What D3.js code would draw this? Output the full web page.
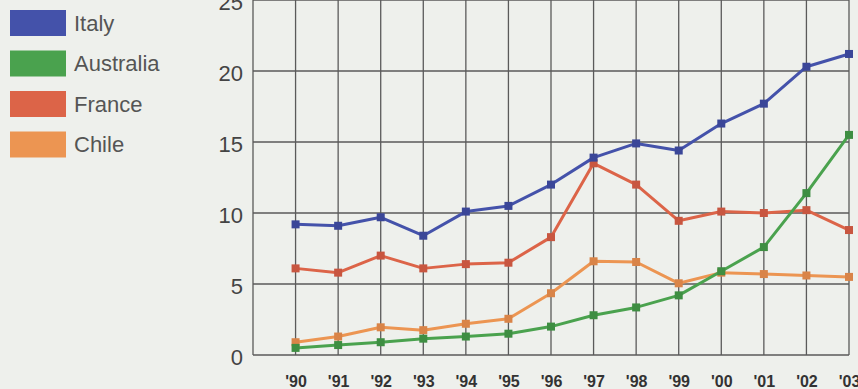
<!DOCTYPE html>
<html><head><meta charset="utf-8">
<script src="https://cdn.jsdelivr.net/npm/d3@7"></script>
<style>
html,body{margin:0;padding:0;background:#eef0ec;}
svg{display:block;}
</style></head>
<body>
<script>
const years = [1990,1991,1992,1993,1994,1995,1996,1997,1998,1999,2000,2001,2002,2003];
const italy     = [9.2,9.1,9.7,8.4,10.1,10.5,12.0,13.9,14.9,14.4,16.3,17.7,20.3,21.2];
const australia = [0.5,0.7,0.9,1.15,1.3,1.5,2.0,2.8,3.35,4.2,5.9,7.6,11.4,15.5];
const france    = [6.1,5.8,7.0,6.1,6.4,6.5,8.3,13.5,12.0,9.45,10.1,10.0,10.2,8.8];
const chile     = [0.9,1.3,1.95,1.75,2.2,2.55,4.35,6.6,6.55,5.05,5.8,5.7,5.6,5.5];
const yTicks = [0,5,10,15,20,25];
const seriesNames = ["Italy","Australia","France","Chile"];
const seriesColors = ["#4452aa","#4aa24e","#dc6448","#ec9552"];
const markerColors = ["#3a4698","#3e8e42","#c85640","#d98448"];

const W=858,H=389;
const svg=d3.select("body").append("svg").attr("width",W).attr("height",H);
svg.append("rect").attr("width",W).attr("height",H).attr("fill","#eef0ec");

const x=d3.scaleLinear().domain([1989,2003]).range([253,849]);
const y=d3.scaleLinear().domain([0,25]).range([355,0]);

// grid
const g=svg.append("g");
g.selectAll("line.h").data(yTicks).join("line")
  .attr("x1",x(1989)).attr("x2",x(2003))
  .attr("y1",d=>y(d)).attr("y2",d=>y(d))
  .attr("stroke","#5a5a5a").attr("stroke-width",1.3);
g.selectAll("line.v").data([1989].concat(years)).join("line")
  .attr("x1",d=>x(d)).attr("x2",d=>x(d))
  .attr("y1",y(25)).attr("y2",y(0))
  .attr("stroke","#5a5a5a").attr("stroke-width",1.3);

// y labels
const yAxis=d3.axisLeft(y).tickValues(yTicks).tickSize(0).tickPadding(10);
const ya=svg.append("g").attr("transform",`translate(${x(1989)},0)`).call(yAxis);
ya.select(".domain").remove();
ya.selectAll("text").attr("font-family","Liberation Sans, Arial, sans-serif")
  .attr("font-size",22).attr("fill","#444").attr("dy","0.42em");

// x labels
const xAxis=d3.axisBottom(x).tickValues(years).tickSize(0).tickPadding(0)
  .tickFormat(d=>"'"+String(d).slice(2));
const xa=svg.append("g").attr("transform",`translate(0,${y(0)})`).call(xAxis);
xa.select(".domain").remove();
xa.selectAll("text").attr("font-family","Liberation Sans, Arial, sans-serif")
  .attr("font-weight","bold").attr("font-size",16).attr("fill","#333").attr("y",21);

// lines
const data=[italy,australia,france,chile];
const order=[3,2,1,0];
const line=d3.line().x((d,i)=>x(years[i])).y(d=>y(d));
order.forEach(k=>{
  svg.append("path").datum(data[k]).attr("d",line)
    .attr("fill","none").attr("stroke",seriesColors[k]).attr("stroke-width",3)
    .attr("stroke-linejoin","round");
  svg.append("g").selectAll("rect").data(data[k]).join("rect")
    .attr("x",(d,i)=>x(years[i])-4).attr("y",d=>y(d)-4)
    .attr("width",8).attr("height",8).attr("fill",markerColors[k]);
});

// legend
const lg=svg.append("g");
seriesNames.forEach((n,i)=>{
  lg.append("rect").attr("x",10).attr("y",10+i*40.5).attr("width",56).attr("height",26)
    .attr("fill",seriesColors[i]);
  lg.append("text").attr("x",74).attr("y",23+i*40.5).attr("dy","0.36em")
    .attr("font-family","Liberation Sans, Arial, sans-serif").attr("font-size",22)
    .attr("fill","#555").text(n);
});
</script>
</body></html>
